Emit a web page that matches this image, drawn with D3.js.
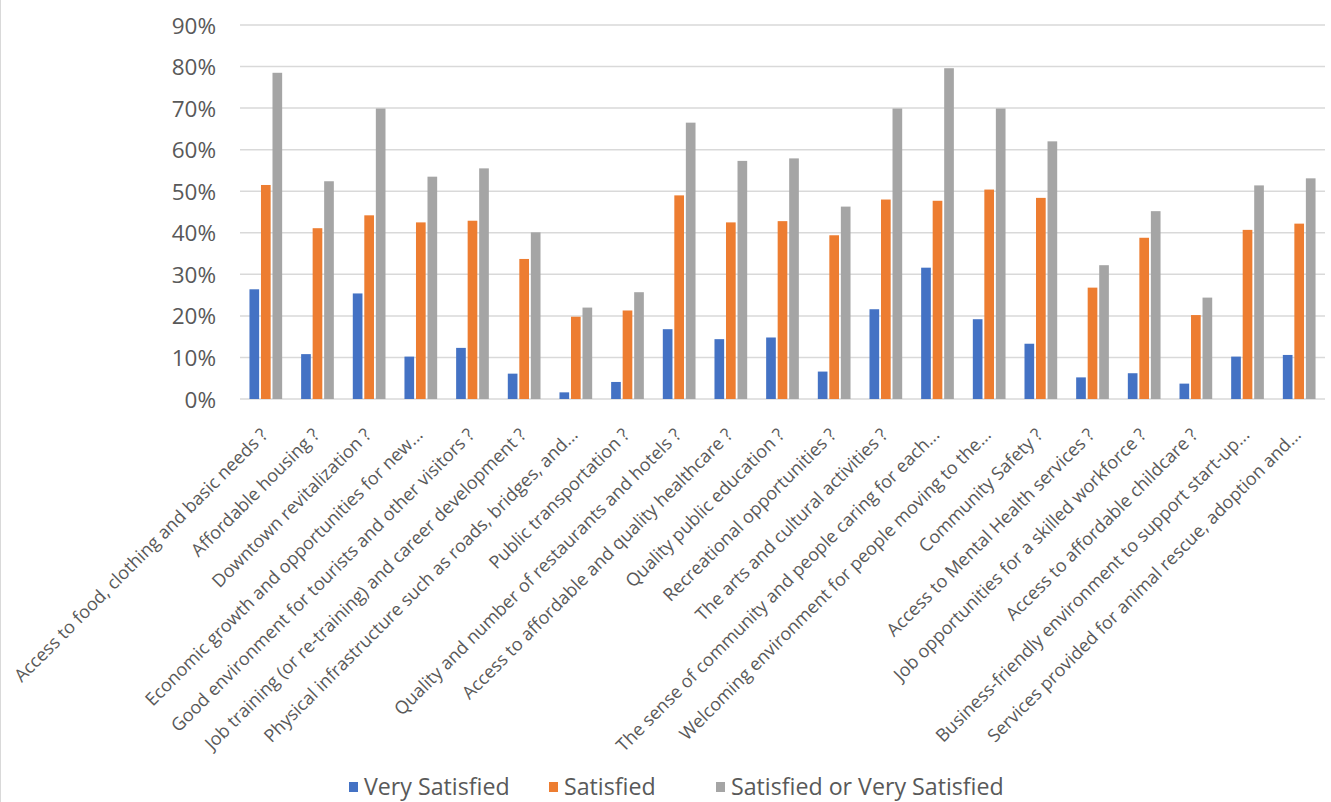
<!DOCTYPE html>
<html>
<head>
<meta charset="utf-8">
<script src="https://cdn.jsdelivr.net/npm/d3@7"></script>
<style>
  html, body { margin: 0; padding: 0; background: #ffffff; }
  svg { display: block; }
  text { font-family: "Open Sans", "Noto Sans", sans-serif; fill: #595959; }
</style>
</head>
<body>
<svg id="chart" width="1331" height="802"></svg>
<script>
// Survey items (x-axis categories)
const categories = [
  "Access to food, clothing and basic needs ?",
  "Affordable housing ?",
  "Downtown revitalization ?",
  "Economic growth and opportunities for new...",
  "Good environment for tourists and other visitors ?",
  "Job training (or re-training) and career development ?",
  "Physical infrastructure such as roads, bridges, and...",
  "Public transportation ?",
  "Quality and number of restaurants and hotels ?",
  "Access to affordable and quality healthcare ?",
  "Quality public education ?",
  "Recreational opportunities ?",
  "The arts and cultural activities ?",
  "The sense of community and people caring for each...",
  "Welcoming environment for people moving to the...",
  "Community Safety ?",
  "Access to Mental Health services ?",
  "Job opportunities for a skilled workforce ?",
  "Access to affordable childcare ?",
  "Business-friendly environment to support start-up...",
  "Services provided for animal rescue, adoption and..."
];

// Share of respondents (fractions)
const verySatisfied = [
  0.264, 0.108, 0.254, 0.102, 0.123, 0.061, 0.016, 0.041, 0.168, 0.144, 0.148,
  0.066, 0.216, 0.316, 0.192, 0.133, 0.052, 0.062, 0.037, 0.102, 0.106
];
const satisfied = [
  0.515, 0.411, 0.442, 0.425, 0.429, 0.337, 0.198, 0.213, 0.490, 0.425, 0.428,
  0.394, 0.480, 0.477, 0.504, 0.484, 0.268, 0.388, 0.202, 0.407, 0.422
];
const satisfiedOrVery = [
  0.785, 0.524, 0.699, 0.535, 0.555, 0.401, 0.220, 0.257, 0.665, 0.573, 0.579,
  0.463, 0.699, 0.796, 0.699, 0.620, 0.322, 0.452, 0.244, 0.514, 0.531
];

const seriesNames = ["Very Satisfied", "Satisfied", "Satisfied or Very Satisfied"];
const seriesColors = ["#4472C4", "#ED7D31", "#A5A5A5"];
const yTicks = [0, 0.1, 0.2, 0.3, 0.4, 0.5, 0.6, 0.7, 0.8, 0.9];

const seriesValues = [verySatisfied, satisfied, satisfiedOrVery];
const rows = categories.map((c, i) => ({
  category: c,
  values: seriesNames.map((s, k) => ({ series: s, value: seriesValues[k][i], color: seriesColors[k] }))
}));

const svg = d3.select("#chart");

const plot = { left: 240, right: 1325, top: 25, bottom: 399 };

const x0 = d3.scaleBand()
  .domain(categories)
  .range([plot.left, plot.right])
  .paddingInner(0.367)
  .paddingOuter(0.183);

const x1 = d3.scaleBand()
  .domain(seriesNames)
  .range([0, x0.bandwidth()])
  .paddingInner(0.16);

const y = d3.scaleLinear()
  .domain([0, 0.9])
  .range([plot.bottom, plot.top]);

// faint chart-area edge on the left
svg.append("line")
  .attr("x1", 0.5).attr("x2", 0.5)
  .attr("y1", 0).attr("y2", 802)
  .attr("stroke", "#d9d9d9").attr("stroke-width", 1);

// horizontal gridlines
svg.append("g")
  .selectAll("line")
  .data(yTicks)
  .join("line")
  .attr("x1", plot.left).attr("x2", plot.right)
  .attr("y1", d => y(d)).attr("y2", d => y(d))
  .attr("stroke", "#d9d9d9")
  .attr("stroke-width", 1.5);

// y axis labels
const yAxis = d3.axisLeft(y)
  .tickValues(yTicks)
  .tickFormat(d3.format(".0%"))
  .tickSize(0)
  .tickPadding(0);

const yg = svg.append("g")
  .attr("transform", `translate(${216},0)`)
  .call(yAxis);
yg.select(".domain").remove();
yg.selectAll("text")
  .attr("font-size", 22.5)
  .attr("font-family", "'Open Sans', sans-serif")
  .attr("fill", "#595959")
  .attr("dy", "0.36em");

// bars
svg.append("g")
  .selectAll("g")
  .data(rows)
  .join("g")
  .attr("transform", d => `translate(${x0(d.category)},0)`)
  .selectAll("rect")
  .data(d => d.values)
  .join("rect")
  .attr("x", d => x1(d.series))
  .attr("width", x1.bandwidth())
  .attr("y", d => y(d.value))
  .attr("height", d => y(0) - y(d.value))
  .attr("fill", d => d.color);

// category labels, rotated
const xAxis = d3.axisBottom(x0).tickSize(0).tickPadding(0);
const xg = svg.append("g")
  .attr("transform", `translate(0,${plot.bottom})`)
  .call(xAxis);
xg.select(".domain").remove();
xg.selectAll(".tick text")
  .attr("font-size", 18)
  .attr("font-family", "'Open Sans', sans-serif")
  .attr("fill", "#595959")
  .attr("text-anchor", "end")
  .attr("y", 0)
  .attr("dy", 0)
  .attr("transform", "translate(3,37) rotate(-45)");

// legend
const legendItems = [
  { name: seriesNames[0], color: seriesColors[0], x: 349 },
  { name: seriesNames[1], color: seriesColors[1], x: 549 },
  { name: seriesNames[2], color: seriesColors[2], x: 716 }
];
const lg = svg.append("g").selectAll("g")
  .data(legendItems)
  .join("g")
  .attr("transform", d => `translate(${d.x},787)`);
lg.append("rect")
  .attr("x", 0).attr("y", -5)
  .attr("width", 9).attr("height", 10)
  .attr("fill", d => d.color);
lg.append("text")
  .attr("x", 15)
  .attr("y", 0)
  .attr("dy", "0.34em")
  .attr("font-size", 23.2)
  .text(d => d.name);
</script>
</body>
</html>
